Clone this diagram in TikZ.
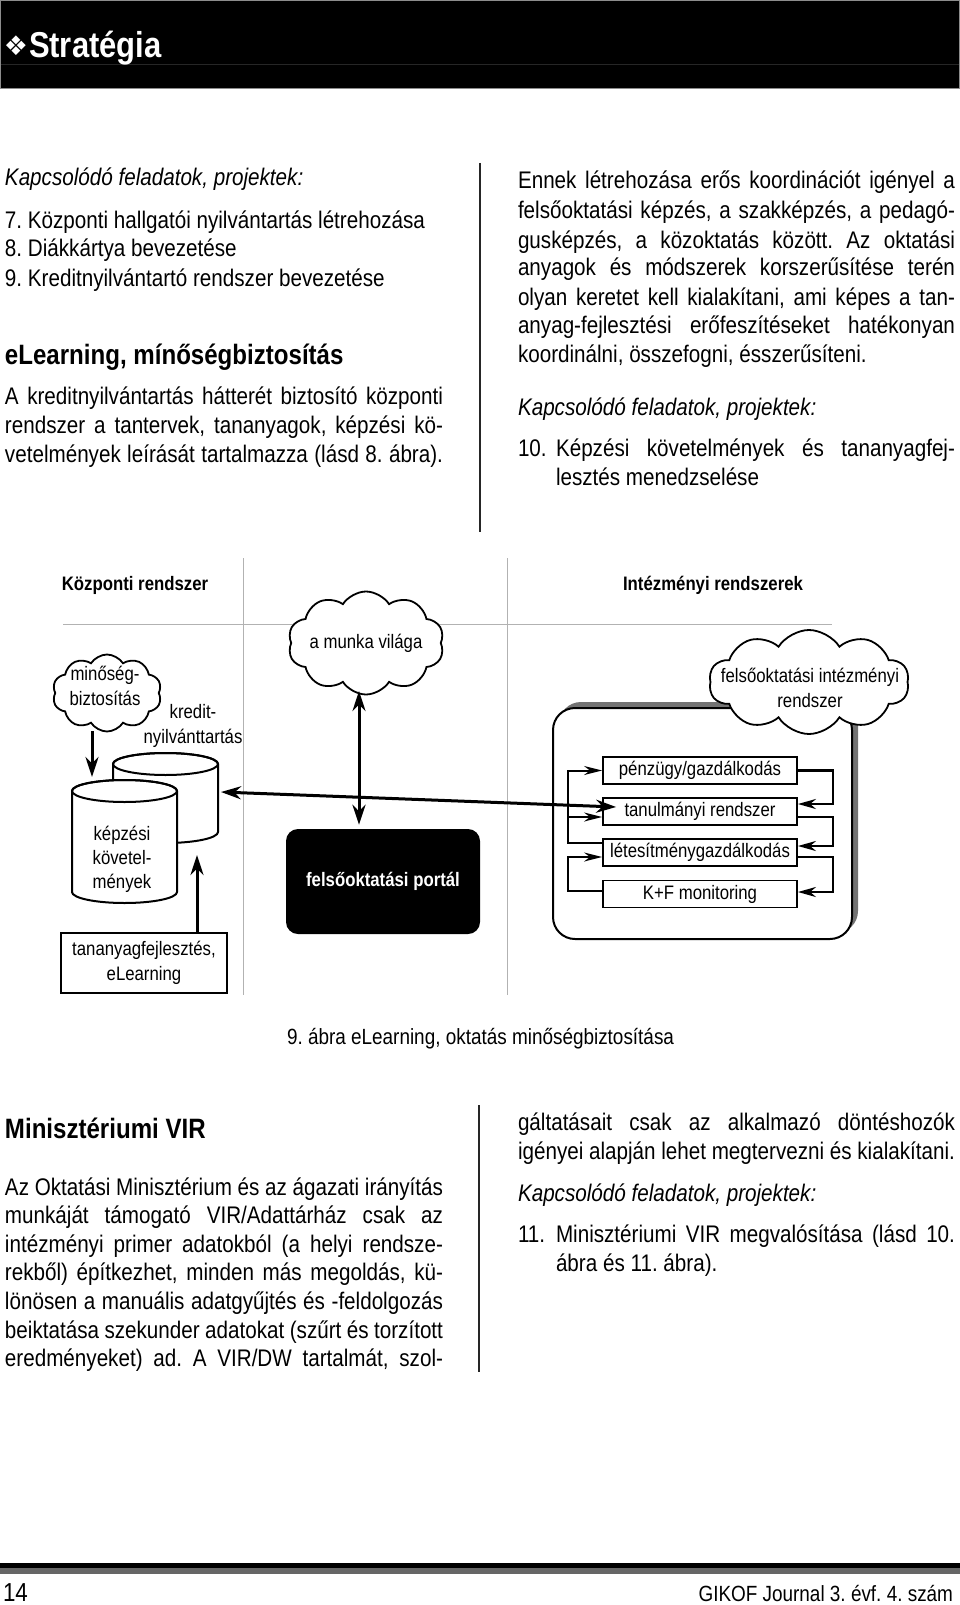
\documentclass[tikz,border=0pt]{standalone}
\usepackage{fontspec}
\setmainfont{Liberation Sans}[FakeStretch=0.86]
\newfontfamily\symfont{DejaVu Sans}
\usetikzlibrary{shapes.symbols,arrows.meta,calc}
\newcommand{\bodyf}{\fontsize{24}{28.5}\selectfont}
\newcommand{\headf}{\fontsize{28}{32}\selectfont\bfseries}
\newcommand{\dgf}{\fontsize{19.5}{24.5}\selectfont}
\newcommand{\jl}[2][437pt]{\makebox[#1][s]{#2}}
\frenchspacing
\begin{document}
\begin{tikzpicture}[x=1pt,y=-1pt,
  txt/.style={anchor=base west, inner sep=0, outer sep=0},
  txtr/.style={anchor=base east, inner sep=0, outer sep=0},
  lbl/.style={font=\dgf, inner sep=0, align=center},
  gridl/.style={draw=black!30, line width=1pt},
  divl/.style={draw=black!85, line width=1.3pt},
  cloudy/.style={cloud, cloud puffs=10, cloud puff arc=115, draw, line width=1.8pt, fill=white, cloud ignores aspect, inner sep=0},
  ibox/.style={draw, line width=1.8pt, minimum width=194pt, minimum height=27pt, inner sep=0, font=\dgf},
  bigarr/.style={line width=3pt, -{Stealth[length=20pt,width=13pt]}},
  dblarr/.style={line width=3pt, {Stealth[length=20pt,width=13pt]}-{Stealth[length=20pt,width=13pt]}},
  rcon/.style={line width=2.6pt, -{Stealth[length=18pt,width=10pt]}},
  lcon/.style={line width=2pt, -{Stealth[length=18pt,width=9pt]}},
  cyl/.style={draw, line width=2pt, fill=white}
]
\path[use as bounding box] (0,0) rectangle (960,1605);
\fill[white] (0,0) rectangle (960,1605);

% ---------- header ----------
\filldraw[fill=black, draw=black!45, line width=1pt] (0.5,0.5) rectangle (959.5,88.5);
\draw[black!85!white, line width=0.8pt] (1,64) -- (959,64);
\node[txt, text=white] (dia) at (4,56) {\fontsize{27}{30}\symfont ❖};
\node[txt, text=white] (title) at (29,58) {\fontsize{36}{40}\selectfont\bfseries Stratégia};

% ---------- upper left column ----------
\node[txt] (ul1) at (5,186) {\bodyf\itshape Kapcsolódó feladatok, projektek:};
\node[txt] (ul2) at (5,229) {\bodyf 7. Központi hallgatói nyilvántartás létrehozása};
\node[txt] (ul3) at (5,257) {\bodyf 8. Diákkártya bevezetése};
\node[txt] (ul4) at (5,286) {\bodyf 9. Kreditnyilvántartó rendszer bevezetése};
\node[txt] (ul5) at (5,364) {\headf eLearning, mínőségbiztosítás};
\node[txt] (ul6) at (5,404) {\bodyf\jl[438pt]{A kreditnyilvántartás hátterét biztosító központi}};
\node[txt] (ul7) at (5,433) {\bodyf\jl[438pt]{rendszer a tantervek, tananyagok, képzési kö-}};
\node[txt] (ul8) at (5,462) {\bodyf\jl[438pt]{vetelmények leírását tartalmazza (lásd 8. ábra).}};

\draw[divl] (480,163) -- (480,532);

% ---------- upper right column ----------
\node[txt] (ur1) at (518,189) {\bodyf\jl{Ennek létrehozása erős koordinációt igényel a}};
\node[txt] (ur2) at (518,219) {\bodyf\jl{felsőoktatási képzés, a szakképzés, a pedagó-}};
\node[txt] (ur3) at (518,248) {\bodyf\jl{gusképzés, a közoktatás között. Az oktatási}};
\node[txt] (ur4) at (518,276) {\bodyf\jl{anyagok és módszerek korszerűsítése terén}};
\node[txt] (ur5) at (518,305) {\bodyf\jl{olyan keretet kell kialakítani, ami képes a tan-}};
\node[txt] (ur6) at (518,333) {\bodyf\jl{anyag-fejlesztési erőfeszítéseket hatékonyan}};
\node[txt] (ur7) at (518,362) {\bodyf koordinálni, összefogni, ésszerűsíteni.};
\node[txt] (ur8) at (518,415) {\bodyf\itshape Kapcsolódó feladatok, projektek:};
\node[txt] (ur9) at (518,456) {\bodyf 10.};
\node[txt] (ur10) at (556,456) {\bodyf\jl[399pt]{Képzési követelmények és tananyagfej-}};
\node[txt] (ur11) at (556,485) {\bodyf lesztés menedzselése};

% ---------- diagram ----------
\draw[gridl] (243,558) -- (243,995);
\draw[gridl] (507,558) -- (507,995);
\draw[gridl] (63,624) -- (832,624);

\node[lbl, font=\dgf\bfseries] (kr) at (135,585) {Központi rendszer};
\node[lbl, font=\dgf\bfseries] (ir) at (713,585) {Intézményi rendszerek};

% institutional frame with shadow
\fill[black!55, rounded corners=22pt] (559,702) rectangle (858,933);
\node[draw, fill=white, line width=2pt, rounded corners=22pt, minimum width=299pt, minimum height=231pt, inner sep=0] (ibx) at (702.5,823.5) {};

% clouds
\node[cloudy, minimum width=156pt, minimum height=103pt] (munka) at (366,643) {};
\node[lbl] (munkat) at (366,643) {a munka világa};
\node[cloudy, minimum width=109pt, minimum height=77pt] (mq) at (107,693) {};
\node[lbl] (mqt) at (105,686) {minőség-\\biztosítás};
\node[cloudy, minimum width=200pt, minimum height=104pt] (fir) at (809,682) {};
\node[lbl] (firt) at (810,688) {felsőoktatási intézményi\\rendszer};

\node[lbl] (kred) at (193,726) {kredit-\\nyilvánttartás};

% cylinders (back, then front)
\draw[cyl] (113,764) -- (113,832) arc[start angle=180, end angle=0, x radius=52.5, y radius=11]
  -- (218,764) arc[start angle=0, end angle=-180, x radius=52.5, y radius=11] -- cycle;
\draw[line width=2pt] (165.5,764) ellipse[x radius=52.5, y radius=11];
\draw[cyl] (72,791) -- (72,892) arc[start angle=180, end angle=0, x radius=52.5, y radius=11]
  -- (177,791) arc[start angle=0, end angle=-180, x radius=52.5, y radius=11] -- cycle;
\draw[line width=2pt] (124.5,791) ellipse[x radius=52.5, y radius=11];
\node[lbl, font=\fontsize{19.5}{24}\selectfont] (kep) at (122,859) {képzési\\követel-\\mények};
\coordinate (c1t) at (92,777);
\coordinate (mqb) at (92,731);
\coordinate (c2b) at (197,855);
\coordinate (c2r) at (221,792);

% other boxes
\node[draw, line width=1.6pt, minimum width=166pt, minimum height=60pt, inner sep=0, lbl] (tana) at (144,963) {tananyagfejlesztés,\\eLearning};
\node[fill=black, rounded corners=12pt, minimum width=194pt, minimum height=105pt, inner sep=0, text=white, font=\dgf\bfseries] (portal) at (383,881.5) {felsőoktatási portál};

\node[ibox] (pen) at (700,770.5) {pénzügy/gazdálkodás};
\node[ibox] (tanr) at (700,811.5) {tanulmányi rendszer};
\node[ibox] (let) at (700,852.5) {létesítménygazdálkodás};
\node[ibox] (kf) at (700,894) {K+F monitoring};

% connectors
\draw[bigarr] (mqb) -- (c1t);
\draw[bigarr] (tana.north -| c2b) -- (c2b);
\coordinate (mb) at (359,691);
\draw[dblarr] (mb) -- ($(portal.north -| mb)+(0,-4)$);
\draw[dblarr] (c2r) -- ($(tanr.west)+(14,-4.5)$);

\draw[rcon] (pen.east) -- ++(35,0) |- ($(tanr.east)+(0,-7.5)$);
\draw[rcon] ($(tanr.east)+(0,5.5)$) -- ++(35,0) |- ($(let.east)+(0,-6.5)$);
\draw[rcon] ($(let.east)+(0,4.5)$) -- ++(35,0) |- ($(kf.east)+(0,-2)$);

\draw[lcon] ($(let.west)+(0,-9.5)$) -- ++(-34,0) |- (pen.west);
\draw[lcon] ($(tanr.west)+(-34,5.5)$) -- ($(tanr.west)+(0,5.5)$);
\draw[lcon] ($(kf.west)+(0,-3)$) -- ++(-34,0) |- ($(let.west)+(0,4.5)$);

% caption
\node[txt] (cap) at (287,1044) {\fontsize{22}{26}\selectfont 9. ábra eLearning, oktatás minőségbiztosítása};

% ---------- lower left ----------
\node[txt] (ll0) at (5,1138) {\headf Minisztériumi VIR};
\node[txt] (ll1) at (5,1195) {\bodyf\jl[438pt]{Az Oktatási Minisztérium és az ágazati irányítás}};
\node[txt] (ll2) at (5,1223) {\bodyf\jl[438pt]{munkáját támogató VIR/Adattárház csak az}};
\node[txt] (ll3) at (5,1252) {\bodyf\jl[438pt]{intézményi primer adatokból (a helyi rendsze-}};
\node[txt] (ll4) at (5,1280) {\bodyf\jl[438pt]{rekből) építkezhet, minden más megoldás, kü-}};
\node[txt] (ll5) at (5,1309) {\bodyf\jl[438pt]{lönösen a manuális adatgyűjtés és -feldolgozás}};
\node[txt] (ll6) at (5,1338) {\bodyf\jl[438pt]{beiktatása szekunder adatokat (szűrt és torzított}};
\node[txt] (ll7) at (5,1366) {\bodyf\jl[438pt]{eredményeket) ad. A VIR/DW tartalmát, szol-}};

\draw[divl] (479,1105) -- (479,1372);

% ---------- lower right ----------
\node[txt] (lr1) at (518,1130) {\bodyf\jl{gáltatásait csak az alkalmazó döntéshozók}};
\node[txt] (lr2) at (518,1159) {\bodyf\jl{igényei alapján lehet megtervezni és kialakítani.}};
\node[txt] (lr3) at (518,1201) {\bodyf\itshape Kapcsolódó feladatok, projektek:};
\node[txt] (lr4) at (518,1242) {\bodyf 11.};
\node[txt] (lr5) at (556,1242) {\bodyf\jl[399pt]{Minisztériumi VIR megvalósítása (lásd 10.}};
\node[txt] (lr6) at (556,1271) {\bodyf ábra és 11. ábra).};

% ---------- footer ----------
\fill[black] (0,1563) rectangle (960,1568);
\fill[black!60] (0,1568) rectangle (960,1574);
\node[txt] (pg) at (3,1601) {\fontsize{26}{30}\selectfont 14};
\node[txtr] (jr) at (953,1601) {\fontsize{22}{26}\selectfont GIKOF Journal 3. évf. 4. szám};
\end{tikzpicture}
\end{document}
